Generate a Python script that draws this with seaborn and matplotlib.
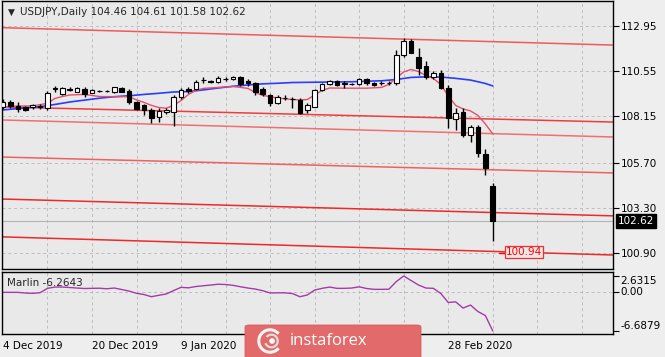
import numpy as np
import pandas as pd
import seaborn as sns
import matplotlib.pyplot as plt
from matplotlib.patches import FancyBboxPatch, Arc, Circle

# pregões (sem candles em 25/12 e 01/01)
datas = pd.bdate_range('2019-12-04', '2020-03-09')
datas = datas[~datas.isin(pd.to_datetime(['2019-12-25', '2020-01-01']))]

abertura = [108.63, 108.93, 108.70, 108.63, 108.63, 108.66, 108.58, 109.62, 109.33, 109.57,
            109.46, 109.62, 109.40, 109.50, 109.48, 109.42, 109.64, 109.51, 108.93, 108.75,
            108.49, 108.10, 108.37, 108.40, 109.16, 109.58, 109.58, 110.05, 110.00, 109.95,
            110.14, 110.13, 110.23, 110.04, 109.90, 109.60, 109.28, 108.84, 109.12, 109.08,
            109.02, 108.49, 108.66, 109.54, 109.86, 110.04, 109.88, 109.85, 109.86, 110.11,
            109.90, 109.92, 109.92, 109.90, 111.40, 112.15, 111.27, 110.81, 110.22, 110.46,
            109.63, 107.99, 108.40, 107.17, 107.57, 106.15, 104.46]
maxima = [109.05, 109.02, 108.90, 108.72, 108.80, 108.78, 109.48, 109.77, 109.72, 109.68,
          109.70, 109.72, 109.60, 109.56, 109.52, 109.72, 109.68, 109.60, 108.95, 108.81,
          108.58, 108.58, 108.59, 109.28, 109.65, 109.70, 110.07, 110.25, 110.06, 110.29,
          110.23, 110.30, 110.29, 110.14, 109.98, 109.70, 109.33, 109.28, 109.28, 109.19,
          109.12, 108.84, 109.60, 109.92, 110.07, 110.07, 110.01, 109.93, 110.18, 110.18,
          109.97, 110.02, 110.02, 111.66, 112.29, 112.22, 111.75, 111.09, 110.57, 110.60,
          109.81, 108.58, 108.58, 107.70, 107.70, 106.41, 104.61]
minima = [108.55, 108.58, 108.40, 108.42, 108.55, 108.55, 108.50, 109.42, 109.28, 109.50,
          109.42, 109.18, 109.36, 109.42, 109.42, 109.40, 109.44, 108.82, 108.50, 108.22,
          107.82, 107.84, 108.28, 107.64, 109.07, 109.38, 109.53, 109.90, 109.92, 109.90,
          110.02, 110.08, 109.76, 109.78, 109.28, 109.23, 108.70, 108.80, 109.02, 108.58,
          108.28, 108.35, 108.65, 109.50, 109.81, 109.76, 109.64, 109.80, 109.81, 109.81,
          109.76, 109.81, 109.81, 109.81, 111.30, 111.49, 110.34, 110.11, 110.11, 109.60,
          107.52, 107.43, 107.05, 106.81, 106.00, 105.05, 101.58]
fechamento = [108.93, 108.70, 108.53, 108.49, 108.75, 108.67, 109.37, 109.64, 109.64, 109.58,
              109.64, 109.33, 109.55, 109.51, 109.49, 109.69, 109.46, 108.93, 108.53, 108.49,
              108.05, 108.44, 108.49, 109.16, 109.55, 109.51, 109.98, 110.08, 109.98, 110.20,
              110.12, 110.23, 109.85, 109.93, 109.46, 109.32, 108.84, 109.19, 109.10, 109.05,
              108.35, 108.75, 109.54, 109.86, 110.04, 109.81, 109.90, 109.87, 110.11, 109.90,
              109.81, 109.94, 109.93, 111.40, 112.15, 111.52, 110.69, 110.25, 110.43, 109.63,
              108.05, 108.34, 107.17, 107.57, 106.22, 105.42, 102.62]

# médias móveis (índice do candle, preço)
ma_lenta_idx = [0, 3, 5, 7, 9, 11, 13, 15, 17, 19, 21, 23, 25, 27, 29, 31, 33, 35, 37, 39,
                41, 43, 45, 47, 49, 51, 53, 55, 57, 59, 61, 63, 65, 66]
ma_lenta = [108.49, 108.60, 108.66, 108.78, 108.91, 109.01, 109.11, 109.19, 109.24, 109.31,
            109.37, 109.44, 109.46, 109.55, 109.65, 109.74, 109.81, 109.87, 109.90, 109.94,
            109.95, 109.96, 109.97, 109.98, 110.01, 110.03, 110.10, 110.21, 110.24, 110.23,
            110.16, 110.07, 109.89, 109.76]
ma_rapida_idx = [0, 2, 4, 6, 7, 8, 9, 11, 13, 15, 17, 18, 19, 20, 21, 22, 23, 24, 25, 26,
                 27, 29, 31, 33, 34, 35, 37, 39, 40, 41, 42, 43, 44, 46, 49, 51, 52, 53, 54, 55,
                 56, 57, 58, 59, 60, 61, 62, 63, 64, 65, 66]
ma_rapida = [108.65, 108.70, 108.70, 108.84, 109.10, 109.20, 109.28, 109.31, 109.20, 109.19,
             109.19, 109.02, 108.89, 108.73, 108.62, 108.58, 108.73, 108.99, 109.31, 109.52,
             109.63, 109.68, 109.73, 109.63, 109.41, 109.26, 109.12, 109.04, 109.02, 109.04,
             109.28, 109.52, 109.65, 109.64, 109.64, 109.68, 109.84, 110.18, 110.50, 110.63,
             110.52, 110.31, 110.15, 109.84, 109.23, 108.73, 108.54, 108.44, 108.20, 107.75,
             107.22]

# linhas do canal (preço na borda esquerda e direita)
canal_esq = [112.84, 108.65, 107.96, 106.00, 103.78, 101.78]
canal_dir = [111.92, 107.85, 107.06, 105.16, 102.89, 100.82]
canal_cor = ['#F05a5a', '#F03c3c', '#F07070', '#F06060', '#F02828', '#F02828']

marlin = [-0.14, -0.14, -0.14, -0.25, -0.31, -0.20, 0.54, 0.76, 0.76, 0.68,
          0.59, 0.51, 0.54, 0.56, 0.47, 0.59, 0.34, 0.08, -0.31, -0.51,
          -0.88, -0.64, -0.42, 0.17, 0.71, 0.63, 0.85, 0.98, 1.10, 1.24,
          1.19, 1.05, 0.81, 0.59, 0.42, 0.14, -0.25, -0.22, -0.22, -0.34,
          -0.88, -0.59, 0.25, 0.54, 0.76, 0.54, 0.54, 0.59, 0.80, 0.51,
          0.37, 0.37, 0.39, 1.69, 2.63, 1.86, 1.10, 0.59, 0.54, -0.34,
          -1.86, -1.75, -2.80, -2.29, -3.39, -4.07, -6.69]

niveis_preco = [112.95, 110.55, 108.15, 105.70, 103.30, 100.90]
niveis_marlin = [2.6315, 0.00, -6.6879]
rotulos_marlin = ['2.6315', '0.00', '-6.6879']
preco_atual = 102.62
alvo = 100.94

sns.set_style('white', rc={'axes.facecolor': '#E9E9E9', 'figure.facecolor': '#EEEEEE',
                           'axes.edgecolor': 'black'})
plt.rcParams['font.family'] = ['DejaVu Sans']

W, H = 665, 357
fig = plt.figure(figsize=(W / 100, H / 100), dpi=100)
ax = fig.add_axes([2 / W, 88 / H, 611 / W, 268 / H])
axm = fig.add_axes([2 / W, 23 / H, 611 / W, 62 / H])

x = np.arange(len(abertura))
xmin, xmax = -0.13, 82.2
grade = dict(color='#BDBDBD', lw=0.7, ls=(0, (3, 3)), zorder=0)

#Gráfico de preço
for a in (ax, axm):
    for gx in range(6, 83, 6):
        a.axvline(gx, **grade)
for nv in niveis_preco:
    ax.axhline(nv, **grade)

for e, d, c in zip(canal_esq, canal_dir, canal_cor):
    ax.plot([xmin, xmax], [e, d], color=c, lw=1.1, zorder=1)

ax.axhline(preco_atual, color='#B4B4B4', lw=0.8, zorder=1)

sns.lineplot(x=ma_lenta_idx, y=ma_lenta, ax=ax, color='#2a3cff', lw=1.2, zorder=2)
sns.lineplot(x=ma_rapida_idx, y=ma_rapida, ax=ax, color='#E4506C', lw=1.0, zorder=2)

o = np.array(abertura)
c = np.array(fechamento)
ax.vlines(x, minima, maxima, color='black', lw=1, zorder=3)
corpo = np.maximum(np.abs(c - o), 0.015)
cores = ['white' if cc >= oo else 'black' for oo, cc in zip(o, c)]
ax.bar(x, corpo, bottom=np.minimum(o, c), width=0.62, color=cores,
       edgecolor='black', lw=0.8, zorder=4)

ax.plot([66.9, 67.6], [alvo, alvo], color='red', lw=1, zorder=5)
ax.text(67.75, alvo + 0.04, f'{alvo:.2f}', color='red', fontsize=7.5, va='center', ha='left',
        zorder=6, bbox=dict(boxstyle='square,pad=0.12', fc='#EBE6E6', ec='#F03030', lw=0.9))

ax.set_xlim(xmin, xmax)
ax.set_ylim(100.08, 114.25)
ax.set_xticks([])
ax.yaxis.tick_right()
ax.set_yticks(niveis_preco)
ax.set_yticklabels([f'{v:.2f}' for v in niveis_preco])
ax.tick_params(axis='y', length=4, width=0.8, pad=1.5, labelsize=7.5, colors='black')
ax.text(1.0075, preco_atual, f'{preco_atual:.2f}', transform=ax.get_yaxis_transform(),
        color='white', fontsize=7.5, va='center', ha='left', clip_on=False,
        bbox=dict(boxstyle='square,pad=0.18', fc='black', ec='black'))

#Indicador Marlin
axm.axhline(0, **grade)
sns.lineplot(x=x, y=marlin, ax=axm, color='#A53AA8', lw=1.0, zorder=2)
axm.set_xlim(xmin, xmax)
axm.set_ylim(-7.20, 3.31)
axm.yaxis.tick_right()
axm.set_yticks(niveis_marlin)
axm.set_yticklabels(rotulos_marlin)
for t, va in zip(axm.get_yticklabels(), ['top', 'center', 'bottom']):
    t.set_va(va)
axm.tick_params(axis='y', length=4, width=0.8, pad=1.5, labelsize=7.5, colors='black')

# rótulos de 27 Jan e 12 Feb ficam escondidos sob a marca d'água no original
pos = list(range(0, len(datas), 12))
escondidos = [36, 48]
axm.set_xticks(pos)
axm.set_xticklabels(['' if p in escondidos else f'{datas[p].day} {datas[p]:%b %Y}'
                     for p in pos], ha='left')
axm.tick_params(axis='x', length=3, width=0.8, pad=2, labelsize=7.5, colors='black')

for a in (ax, axm):
    for s in a.spines.values():
        s.set_visible(True)
        s.set_linewidth(1.0)
        s.set_color('black')

fig.text(8 / W, 1 - 12.5 / H, '▼', fontsize=6.5, va='center')
fig.text(20 / W, 1 - 12 / H, 'USDJPY,Daily 104.46 104.61 101.58 102.62', fontsize=7.5, va='center')
fig.text(7 / W, 1 - 283 / H, 'Marlin -6.2643', fontsize=7.5, va='center')

# marca d'água
fig.add_artist(FancyBboxPatch((245 / W, -0.05), 176 / W, 32 / H + 0.05,
                              boxstyle='round,pad=0,rounding_size=0.006',
                              transform=fig.transFigure, fc='#E36A6A', ec='#D85C5C',
                              lw=0.6, zorder=10))
fig.text(290 / W, 1 - 341 / H, 'instaforex', color='white', fontsize=12,
         family=['Open Sans', 'DejaVu Sans'], va='center', ha='left', zorder=11)
axl = fig.add_axes([256 / W, 2 / H, 28 / W, 28 / H])
axl.set_xlim(-1, 1)
axl.set_ylim(-1, 1)
axl.axis('off')
axl.set_zorder(12)
axl.add_patch(Arc((0, 0), 1.6, 1.6, theta1=40, theta2=320, color='#F4F4F4', lw=2.2))
axl.add_patch(Arc((0.1, 0), 0.9, 0.9, theta1=200, theta2=140, color='#DDDDDD', lw=1.6))
axl.add_patch(Circle((0.15, 0.0), 0.15, color='white'))

fig.savefig('out.png', dpi=100, facecolor=fig.get_facecolor())
